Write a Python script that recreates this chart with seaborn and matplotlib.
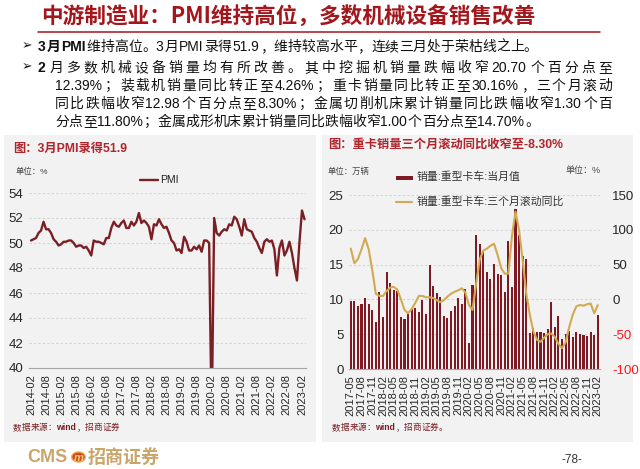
import numpy as np
import pandas as pd
import matplotlib
matplotlib.use("Agg")
import matplotlib.pyplot as plt
import seaborn as sns
from matplotlib.patches import Rectangle, Circle
from matplotlib.lines import Line2D
from matplotlib import font_manager as fm

# ---------------- data ----------------
pmi_months = list(pd.period_range("2014-02", "2023-03", freq="M").strftime("%Y-%m"))
pmi = [50.2, 50.3, 50.4, 50.8, 51.0, 51.7, 51.1, 51.1, 50.8, 50.3, 50.1,
       49.8, 49.9, 50.1, 50.1, 50.2, 50.2, 50.0, 49.7, 49.8, 49.8, 49.6, 49.7,
       49.4, 49.0, 50.2, 50.1, 50.1, 50.0, 49.9, 50.4, 50.4, 51.2, 51.7, 51.4,
       51.3, 51.6, 51.8, 51.2, 51.2, 51.7, 51.4, 51.7, 52.4, 51.6, 51.8, 51.6,
       51.3, 50.3, 51.5, 51.4, 51.9, 51.5, 51.2, 51.3, 50.8, 50.2, 50.0, 49.4,
       49.5, 49.2, 50.5, 50.1, 49.4, 49.4, 49.7, 49.5, 49.8, 49.3, 50.2, 50.2,
       50.0, 35.7, 52.0, 50.8, 50.6, 50.9, 51.1, 51.0, 51.5, 51.4, 52.1, 51.9,
       51.3, 50.6, 51.9, 51.1, 51.0, 50.9, 50.4, 50.1, 49.6, 49.2, 50.1, 50.3,
       50.1, 50.2, 49.5, 47.4, 49.6, 50.2, 49.0, 49.4, 50.1, 49.2, 48.0, 47.0,
       50.1, 52.6, 51.9]
pmi_ticks = pmi_months[::6][:19]

truck_months = list(pd.period_range("2017-05", "2023-02", freq="M").strftime("%Y-%m"))
truck_sales = [9.8, 9.8, 9.1, 9.3, 10.2, 9.3, 8.5, 6.7, 11.0, 7.5,
               13.9, 12.3, 11.4, 11.2, 7.4, 7.2, 7.9, 8.6, 8.7, 8.2,
               9.9, 7.9, 14.9, 11.9, 10.9, 10.4, 7.6, 7.3, 8.3, 9.1,
               10.2, 9.3, 11.5, 3.8, 12.1, 19.2, 17.9, 16.9, 14.0, 13.0,
               15.1, 13.7, 13.5, 11.0, 18.4, 11.8, 23.0, 19.2, 16.2, 15.8,
               5.2, 5.9, 5.3, 5.3, 5.2, 5.7, 9.6, 6.0, 7.6, 4.3,
               5.0, 5.5, 4.6, 5.3, 5.0, 4.9, 4.7, 5.3, 4.9, 7.7]
truck_yoy = [73, 52, 58, 72, 88, 72, 42, 8, 5, 5,
             12, 17, 18, 14, 0, -15, -20, -14, -5, 5,
             5, 3, 3, 2, -1, -4, -1, 4, 8, 11,
             13, 16, 10, -8, -15, 22, 57, 70, 73, 77,
             80, 64, 45, 37, 37, 90, 126, 100, 57, 9,
             -22, -46, -58, -61, -55, -50, -49, -54, -64, -70,
             -62, -40, -22, -10, -8, -9, -7, -6, -20, -8.3]
truck_ticks = truck_months[::3]

# ---------------- style ----------------
sns.set_style("white")
plt.rcParams["font.family"] = ["Liberation Sans", "Noto Sans CJK SC", "DejaVu Sans"]
plt.rcParams["axes.unicode_minus"] = False

W, H = 640, 469
DPI = 100
fig = plt.figure(figsize=(W / DPI, H / DPI), dpi=DPI)
fig.patch.set_facecolor("white")
renderer = fig.canvas.get_renderer()


def fx(x):
    return x / W


def fy(y):
    return 1 - y / H


DARKRED = "#A3161C"
MAROON = "#7A1C22"
GOLD = "#C9A56A"


# ---------------- text helper (token layout, optional justification) ----------------
def _is_latin(ch):
    return ord(ch) < 0x2000


def _latin_width(s, bold, size):
    prop = fm.FontProperties(family=["Liberation Sans", "DejaVu Sans"], size=size,
                             weight="bold" if bold else "normal")
    w, h, d = renderer.get_text_width_height_descent(s, prop, ismath=False)
    return w + 0.08 * size * DPI / 72.0


def draw_runs(x0, ybase, runs, size, x1=None, color="#111111"):
    em = size * DPI / 72.0
    tokens = []
    for txt, bold in runs:
        buf = ""
        for ch in txt:
            if _is_latin(ch):
                buf += ch
            else:
                if buf:
                    tokens.append((buf, bold, _latin_width(buf, bold, size), "Liberation Sans"))
                    buf = ""
                tokens.append((ch, bold, em, "Noto Sans CJK SC"))
        if buf:
            tokens.append((buf, bold, _latin_width(buf, bold, size), "Liberation Sans"))
    total = sum(t[2] for t in tokens)
    gap = 0.0
    if x1 is not None and len(tokens) > 1:
        gap = (x1 - x0 - total) / (len(tokens) - 1)
    x = x0
    for txt, bold, w, fam in tokens:
        fig.text(fx(x), fy(ybase), txt, fontsize=size, family=[fam, "DejaVu Sans"],
                 fontweight="bold" if bold else "normal", color=color,
                 va="baseline", ha="left")
        x += w + gap


# ---------------- slide title ----------------
fig.text(fx(41), fy(17), "中游制造业：PMI维持高位，多数机械设备销售改善",
         fontsize=15.6, fontweight="bold", color=DARKRED, va="center", ha="left",
         family=["Noto Sans CJK SC", "DejaVu Sans"])
fig.add_artist(Line2D([fx(38), fx(600)], [fy(32), fy(32)], color=DARKRED, lw=1.1))

# ---------------- bullets ----------------
TS = 10
for yb in (46, 67):
    fig.text(fx(22), fy(yb), "➢", fontsize=9, family=["DejaVu Sans"], color="#111111",
             va="center", ha="left")
draw_runs(38, 51, [("3月PMI", True), ("维持高位。3月PMI录得51.9，维持较高水平，连续三月处于荣枯线之上。", False)], TS)
draw_runs(38, 72, [("2", True), ("月多数机械设备销量均有所改善。其中挖掘机销量跌幅收窄20.70个百分点至", False)], TS, x1=612)
draw_runs(55, 90, [("12.39%；装载机销量同比转正至4.26%；重卡销量同比转正至30.16%，三个月滚动", False)], TS, x1=612)
draw_runs(55, 108, [("同比跌幅收窄12.98个百分点至8.30%；金属切削机床累计销量同比跌幅收窄1.30个百", False)], TS, x1=612)
draw_runs(55, 126, [("分点至11.80%；金属成形机床累计销量同比跌幅收窄1.00个百分点至14.70%。", False)], TS)

# ---------------- panels ----------------
for (a, b) in ((4, 316), (322, 633)):
    fig.add_artist(Rectangle((fx(a), fy(442)), (b - a) / W, (442 - 135) / H,
                             transform=fig.transFigure, facecolor="#F2F2F2",
                             edgecolor="none", zorder=0))

TITLE_RED = "#B0242B"
fig.text(fx(13), fy(149), "图：3月PMI录得51.9", fontsize=8.8, fontweight="bold",
         color=TITLE_RED, va="center", ha="left")
fig.text(fx(328), fy(145), "图：重卡销量三个月滚动同比收窄至-8.30%", fontsize=8.8,
         fontweight="bold", color=TITLE_RED, va="center", ha="left")
fig.text(fx(16), fy(172), "单位：%", fontsize=6, color="#444444", va="center", ha="left")
fig.text(fx(328), fy(172), "单位：万辆", fontsize=6, color="#444444", va="center", ha="left")
fig.text(fx(566), fy(170), "单位：%", fontsize=6.5, color="#444444", va="center", ha="left")

# source lines
draw_runs(13, 430, [("数据来源：", False), ("wind", True), ("，招商证券", False)], 6.2, color=MAROON)
draw_runs(332, 430, [("数据来源：", False), ("wind", True), ("，招商证券。", False)], 6.2, color=MAROON)

# ---------------- PMI chart ----------------
ax1 = fig.add_axes([fx(29), fy(368), (306 - 29) / W, (368 - 193) / H])
ax1.set_facecolor("none")
x_pmi = np.arange(len(pmi))
sns.lineplot(x=x_pmi, y=pmi, ax=ax1, color="#7A1F24", lw=1.7)
ax1.set_ylim(40, 54)
ax1.set_xlim(-0.8, 109.6)
ax1.set_yticks(np.arange(40, 55, 2))
for yv in np.arange(42, 55, 2):
    ax1.axhline(yv, color="#D3D3D3", lw=0.8, ls=(0, (2, 2)), zorder=0)
ax1.set_xticks(np.arange(0, 109, 6))
ax1.set_xticklabels(pmi_ticks, rotation=90)
for s in ("top", "right", "left"):
    ax1.spines[s].set_visible(False)
ax1.spines["bottom"].set_color("#A6A6A6")
ax1.tick_params(axis="x", length=3, color="#A6A6A6", labelsize=8, pad=1.5, direction="out")
ax1.tick_params(axis="y", length=0, labelsize=9.5, pad=4)
ax1.set_xlabel("")
ax1.set_ylabel("")
fig.add_artist(Line2D([fx(140), fx(158)], [fy(180), fy(180)], color="#7A1F24", lw=1.7))
fig.text(fx(160), fy(180), "PMI", fontsize=7.5, color="#222222", va="center", ha="left")

# ---------------- heavy truck chart ----------------
ax2 = fig.add_axes([fx(349), fy(369), 250.6 / W, 174 / H])
ax2.set_facecolor("none")
df_truck = pd.DataFrame({"idx": np.arange(len(truck_sales)), "sales": truck_sales})
sns.barplot(data=df_truck, x="idx", y="sales", ax=ax2, native_scale=True,
            color="#7E1A24", saturation=1, width=0.58, errorbar=None,
            linewidth=0)
ax3 = ax2.twinx()
sns.lineplot(x=np.arange(len(truck_yoy)), y=truck_yoy, ax=ax3, color="#D2AA52", lw=1.5)
ax2.set_ylim(0, 25)
ax3.set_ylim(-100, 150)
ax2.set_xlim(-0.5, len(truck_sales) - 0.5)
ax2.set_yticks(np.arange(0, 26, 5))
ax3.set_yticks(np.arange(-100, 151, 50))
for yv in np.arange(5, 26, 5):
    ax2.axhline(yv, color="#D3D3D3", lw=0.8, ls=(0, (2, 2)), zorder=0)
ax2.set_xticks(np.arange(0, len(truck_sales), 3))
ax2.set_xticklabels(truck_ticks, rotation=90)
for a in (ax2, ax3):
    for s in ("top", "right", "left"):
        a.spines[s].set_visible(False)
    a.set_xlabel("")
    a.set_ylabel("")
ax3.spines["bottom"].set_visible(False)
ax2.spines["bottom"].set_color("#A6A6A6")
ax2.tick_params(axis="x", length=3, color="#A6A6A6", labelsize=8, pad=1.5)
ax2.tick_params(axis="y", length=0, labelsize=9.5, pad=4)
ax3.tick_params(axis="y", length=0, labelsize=9.5, pad=9)
for lbl, v in zip(ax3.get_yticklabels(), ax3.get_yticks()):
    if v < 0:
        lbl.set_color("#FF1A1A")

fig.add_artist(Rectangle((fx(396), fy(179.5)), 17 / W, 4 / H, transform=fig.transFigure,
                         facecolor="#7A1C22", edgecolor="none"))
fig.text(fx(417), fy(177), "销量:重型卡车:当月值", fontsize=7.8, color="#333333",
         va="center", ha="left")
fig.add_artist(Line2D([fx(396), fx(412)], [fy(202), fy(202)], color="#D2AA52", lw=1.5))
fig.text(fx(417), fy(202), "销量:重型卡车:三个月滚动同比", fontsize=7.8, color="#333333",
         va="center", ha="left")

# ---------------- footer ----------------
fig.text(fx(27), fy(457), "CMS", fontsize=13, fontweight="bold", color=GOLD,
         va="center", ha="left")
fig.add_artist(Circle((fx(78.5), fy(457)), 6.8 / W, transform=fig.transFigure,
                      facecolor="#D8421E", edgecolor="#E8B04A", lw=1.0))
fig.text(fx(78.5), fy(457.5), "m", fontsize=8, fontweight="bold", style="italic",
         color="#F6D27A", va="center", ha="center")
fig.text(fx(88), fy(457), "招商证券", fontsize=13, fontweight="bold", color=GOLD,
         va="center", ha="left", family=["Noto Sans CJK SC"])
fig.text(fx(562), fy(460), "-78-", fontsize=8.5, color="#333333", va="center", ha="left")

fig.savefig("out.png", dpi=DPI, facecolor="white")
